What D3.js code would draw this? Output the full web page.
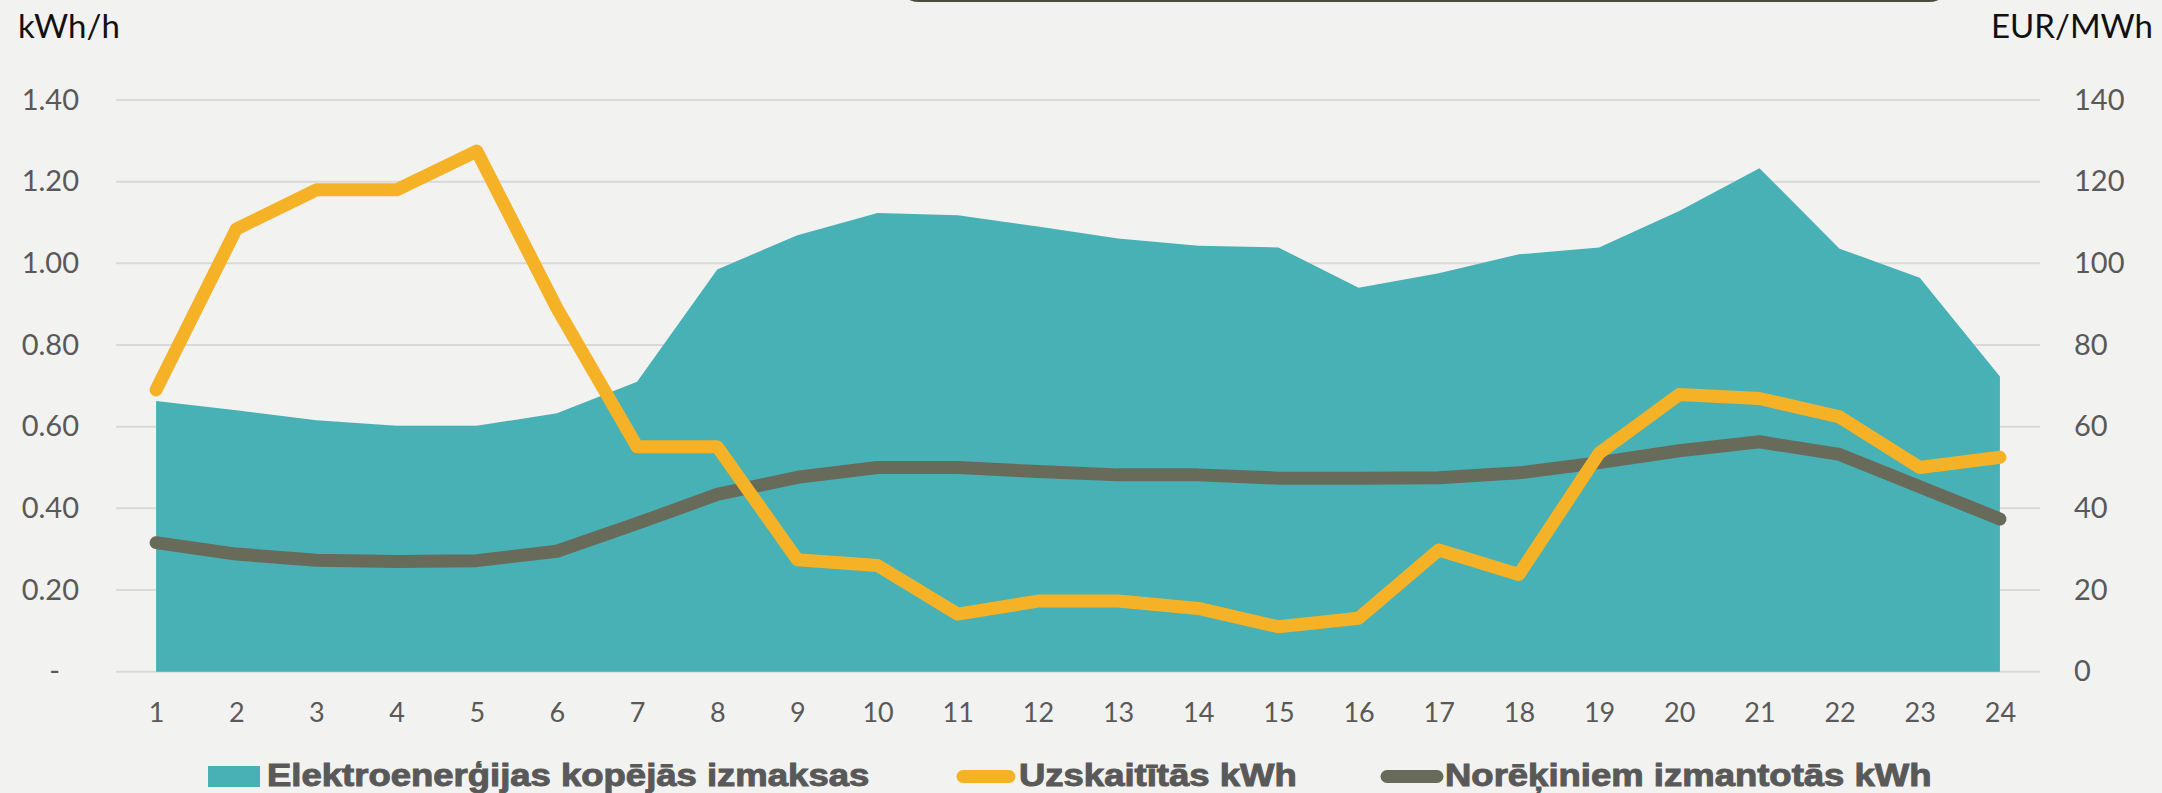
<!DOCTYPE html>
<html>
<head>
<meta charset="utf-8">
<script src="https://cdn.jsdelivr.net/npm/d3@7/dist/d3.min.js"></script>
<style>
  html, body { margin: 0; padding: 0; background: #f2f2f0; }
  svg { display: block; }
</style>
</head>
<body>
<script>
// ---------------- DATA ----------------
const hours = ["1","2","3","4","5","6","7","8","9","10","11","12","13","14","15","16","17","18","19","20","21","22","23","24"];
// Elektroenerģijas kopējās izmaksas (EUR/MWh, right axis)
const costEUR = [66.3, 64.0, 61.6, 60.2, 60.2, 63.3, 71.0, 98.5, 106.9, 112.3, 111.8, 109.0, 106.1, 104.3, 103.9, 94.0, 97.6, 102.2, 103.9, 112.8, 123.3, 103.6, 96.5, 72.3];
// Uzskaitītās kWh (left axis)
const meteredKWh = [0.69, 1.084, 1.18, 1.18, 1.275, 0.89, 0.551, 0.551, 0.274, 0.26, 0.141, 0.173, 0.173, 0.155, 0.110, 0.131, 0.298, 0.238, 0.535, 0.679, 0.669, 0.624, 0.500, 0.525];
// Norēķiniem izmantotās kWh (left axis)
const billedKWh = [0.316, 0.288, 0.273, 0.270, 0.272, 0.295, 0.363, 0.434, 0.476, 0.500, 0.500, 0.490, 0.482, 0.482, 0.474, 0.474, 0.475, 0.487, 0.512, 0.541, 0.563, 0.532, 0.453, 0.374];
const leftTicks = [0, 0.2, 0.4, 0.6, 0.8, 1.0, 1.2, 1.4];
const leftTickLabels = ["-", "0.20", "0.40", "0.60", "0.80", "1.00", "1.20", "1.40"];
const rightTicks = [0, 20, 40, 60, 80, 100, 120, 140];
const rightTickLabels = ["0", "20", "40", "60", "80", "100", "120", "140"];
const leftTitle = "kWh/h";
const rightTitle = "EUR/MWh";
const seriesNames = ["Elektroenerģijas kopējās izmaksas", "Uzskaitītās kWh", "Norēķiniem izmantotās kWh"];

// ---------------- LAYOUT ----------------
const W = 2162, H = 793;
const plotL = 116, plotR = 2040, plotT = 100, plotB = 671.7;
const tealC = "#47b1b5", orangeC = "#f6b226", darkC = "#686b5a";
const tickFont = "'Gill Sans MT','Gill Sans',Lato,sans-serif";

const svg = d3.select("body").append("svg").attr("width", W).attr("height", H);
svg.append("rect").attr("width", W).attr("height", H).attr("fill", "#f2f2f0");

// decorative dark rounded box at top
svg.append("rect").attr("x", 897).attr("y", -40).attr("width", 1054).attr("height", 42)
  .attr("rx", 22).attr("fill", "#4a4b3d");

const x = d3.scalePoint().domain(hours).range([plotL, plotR]).padding(0.5);
const yL = d3.scaleLinear().domain([0, 1.4]).range([plotB, plotT]);
const yR = d3.scaleLinear().domain([0, 140]).range([plotB, plotT]);

// gridlines
svg.append("g").selectAll("line").data(leftTicks).join("line")
  .attr("x1", plotL).attr("x2", plotR)
  .attr("y1", d => yL(d)).attr("y2", d => yL(d))
  .attr("stroke", "#d9d9d9").attr("stroke-width", 2);

// area
const area = d3.area().x((d, i) => x(hours[i])).y0(yR(0)).y1(d => yR(d));
svg.append("path").datum(costEUR).attr("d", area).attr("fill", tealC);

// lines
const lineL = d3.line().x((d, i) => x(hours[i])).y(d => yL(d));
svg.append("path").datum(billedKWh).attr("d", lineL).attr("fill", "none")
  .attr("stroke", darkC).attr("stroke-width", 13).attr("stroke-linecap", "round").attr("stroke-linejoin", "round");
svg.append("path").datum(meteredKWh).attr("d", lineL).attr("fill", "none")
  .attr("stroke", orangeC).attr("stroke-width", 13).attr("stroke-linecap", "round").attr("stroke-linejoin", "round");

// left axis
const axL = svg.append("g").attr("transform", `translate(${plotL},0)`)
  .call(d3.axisLeft(yL).tickValues(leftTicks).tickSize(0).tickPadding(37)
    .tickFormat((d, i) => leftTickLabels[i]));
axL.select(".domain").remove();
axL.selectAll("text").attr("font-family", tickFont).attr("font-size", 29).attr("fill", "#595959");
axL.selectAll("text").filter((d, i) => i === 0).attr("dx", -19);

// right axis
const axR = svg.append("g").attr("transform", `translate(${plotR},0)`)
  .call(d3.axisRight(yR).tickValues(rightTicks).tickSize(0).tickPadding(34)
    .tickFormat((d, i) => rightTickLabels[i]));
axR.select(".domain").remove();
axR.selectAll("text").attr("font-family", tickFont).attr("font-size", 29).attr("fill", "#595959");

// bottom axis
const axB = svg.append("g").attr("transform", `translate(0,${plotB})`)
  .call(d3.axisBottom(x).tickSize(0).tickPadding(31));
axB.select(".domain").remove();
axB.selectAll("text").attr("font-family", tickFont).attr("font-size", 27).attr("fill", "#595959");

// axis titles
svg.append("text").attr("x", 18).attr("y", 38).text(leftTitle)
  .attr("font-family", tickFont).attr("font-size", 33).attr("fill", "#111");
svg.append("text").attr("x", 2153).attr("y", 38).attr("text-anchor", "end").text(rightTitle)
  .attr("font-family", tickFont).attr("font-size", 33).attr("fill", "#111");

// legend
const lg = svg.append("g");
const legFont = "'Liberation Sans',Arial,sans-serif";
function legText(xpos, txt) {
  const t = lg.append("text").attr("x", xpos).attr("y", 786).text(txt)
    .attr("font-family", legFont).attr("font-weight", "bold").attr("font-size", 32)
    .attr("fill", "#595959").attr("stroke", "#595959").attr("stroke-width", 1);
  const w = t.node().getComputedTextLength();
  t.attr("textLength", w * 1.14).attr("lengthAdjust", "spacingAndGlyphs");
}
lg.append("rect").attr("x", 208).attr("y", 766).attr("width", 52).attr("height", 21).attr("fill", tealC);
legText(267, seriesNames[0]);
lg.append("line").attr("x1", 963).attr("x2", 1009).attr("y1", 776.5).attr("y2", 776.5)
  .attr("stroke", orangeC).attr("stroke-width", 13).attr("stroke-linecap", "round");
legText(1019, seriesNames[1]);
lg.append("line").attr("x1", 1387).attr("x2", 1437).attr("y1", 776.5).attr("y2", 776.5)
  .attr("stroke", darkC).attr("stroke-width", 13).attr("stroke-linecap", "round");
legText(1445, seriesNames[2]);
</script>
</body>
</html>
